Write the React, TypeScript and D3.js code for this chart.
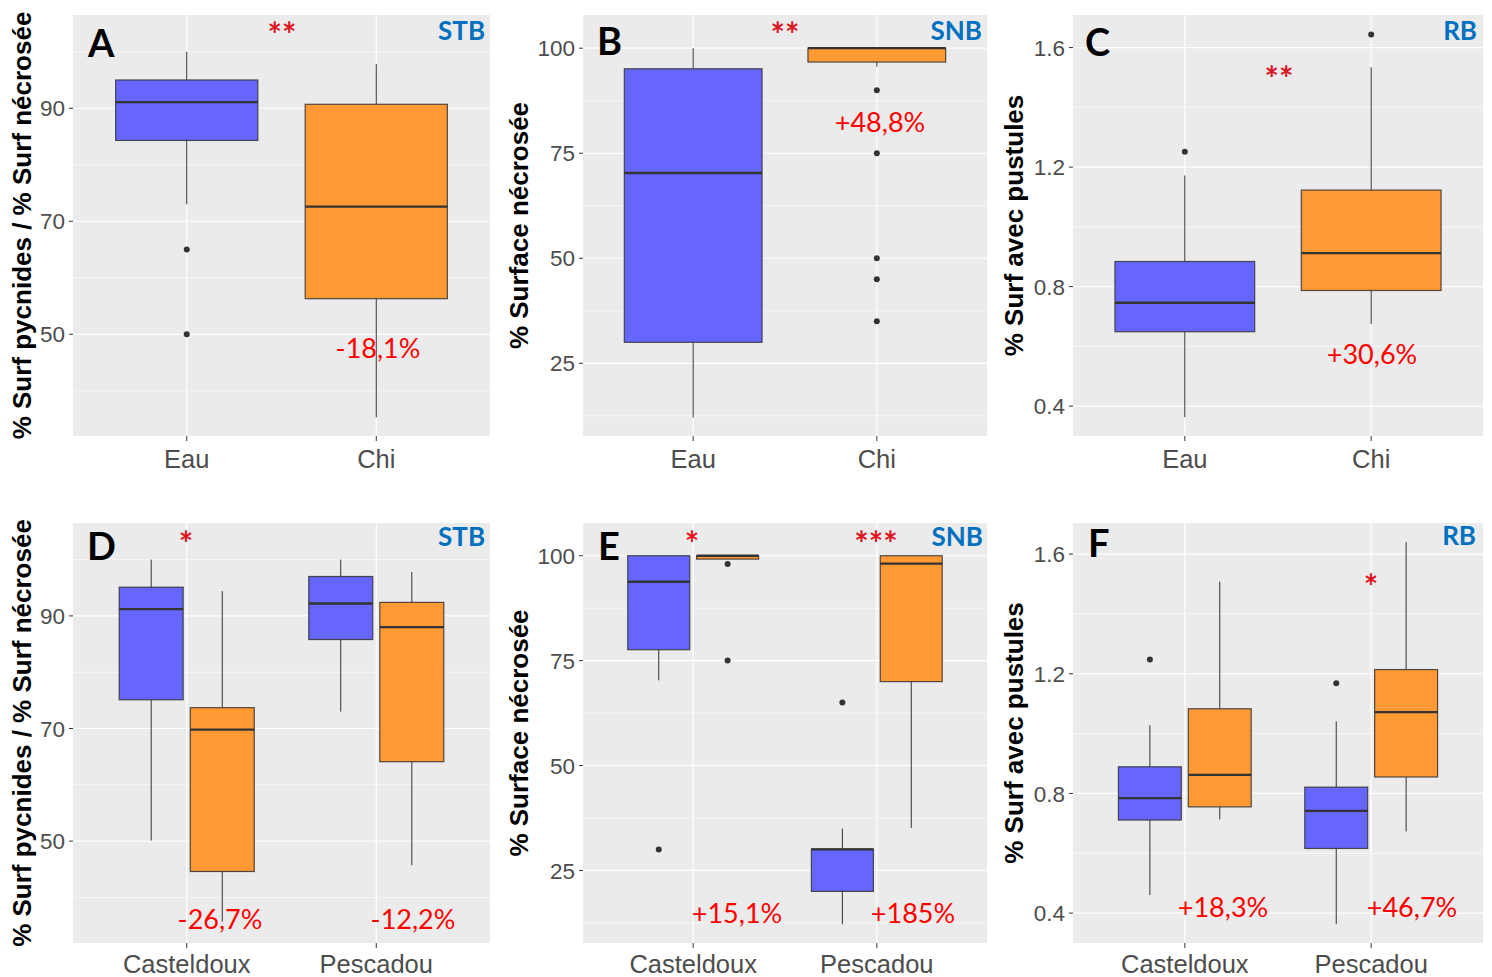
import React from "react";
import * as d3 from "d3";

// ---------- DATA ----------
const CATS_TOP = ["Eau", "Chi"];
const CATS_BOTTOM = ["Casteldoux", "Pescadou"];
const TREATMENT_FILLS = ["#6666FF", "#FF9933"]; // Eau, Chi

// stats: [lower whisker, Q1, median, Q3, upper whisker]
const statsA = [[73, 84.3, 91.1, 95, 100], [35.3, 56.3, 72.6, 90.7, 97.8]];
const outliersA = [[65, 50], []];
const statsB = [[12.1, 30, 70.3, 95.1, 100], [95.6, 96.7, 100, 100, 100]];
const outliersB = [[], [90, 75, 50, 45, 35]];
const statsC = [[0.363, 0.649, 0.746, 0.884, 1.172], [0.675, 0.787, 0.912, 1.123, 1.534]];
const outliersC = [[1.251], [1.644]];
// bottom order: Casteldoux-Eau, Casteldoux-Chi, Pescadou-Eau, Pescadou-Chi
const statsD = [[50.1, 75.1, 91.2, 95.1, 100], [35.7, 44.6, 69.8, 73.7, 94.4], [73, 85.8, 92.2, 97, 100], [45.7, 64.1, 88, 92.4, 97.8]];
const outliersD = [[], [], [], []];
const statsE = [[70.3, 77.6, 93.8, 100, 100], [99.2, 99.2, 100, 100, 100], [12.2, 20, 30, 30.1, 35], [35.1, 70, 98.1, 100, 100]];
const outliersE = [[30], [98, 75], [65], []];
const statsF = [[0.46, 0.711, 0.784, 0.889, 1.028], [0.713, 0.755, 0.862, 1.083, 1.508], [0.363, 0.616, 0.742, 0.821, 1.041], [0.673, 0.855, 1.072, 1.214, 1.64]];
const outliersF = [[1.248], [], [1.168], []];

const ticksSTB = [50, 70, 90];
const minorSTB = [40, 60, 80, 100];
const ticksSNB = [25, 50, 75, 100];
const minorSNB = [12.5, 37.5, 62.5, 87.5];
const ticksRB = [0.4, 0.8, 1.2, 1.6];
const minorRB = [0.6, 1.0, 1.4];

const TITLE_STB = "% Surf pycnides / % Surf nécrosée";
const TITLE_SNB = "% Surface nécrosée";
const TITLE_RB = "% Surf avec pustules";

// ---------- LAYOUT ----------
const COLS = [
  { x0: 73, x1: 490, titleX: 31 },
  { x0: 583, x1: 987, titleX: 528 },
  { x0: 1073, x1: 1483, titleX: 1023 },
];
const ROWS = [
  { y0: 15, y1: 436, xLabelY: 468 },
  { y0: 523, y1: 943, xLabelY: 973 },
];

const FONT_AXIS = "'Liberation Sans', Arial, sans-serif";
const FONT_ANNOT = "Lato, 'Open Sans', sans-serif";

function buildBoxes(stats, outliers, dodged) {
  return stats.map((s, i) => {
    if (!dodged) return { pos: i + 1, width: 0.75, fill: TREATMENT_FILLS[i], s, out: outliers[i] };
    const cat = Math.floor(i / 2);
    const trt = i % 2;
    return { pos: cat + 1 + (trt ? 0.1875 : -0.1875), width: 0.3375, fill: TREATMENT_FILLS[trt], s, out: outliers[i] };
  });
}

const panels = [
  { col: 0, row: 0, domain: [32, 106.5], ticks: ticksSTB, minor: minorSTB, cats: CATS_TOP, boxes: buildBoxes(statsA, outliersA, false), title: TITLE_STB, letter: "A", letterPos: [88, 57], tag: "STB", tagPos: [485, 40],
    stars: [{ t: "**", x: 282, y: 47 }], pcts: [{ t: "-18,1%", x: 378, y: 358 }] },
  { col: 1, row: 0, domain: [7.7, 107.9], ticks: ticksSNB, minor: minorSNB, cats: CATS_TOP, boxes: buildBoxes(statsB, outliersB, false), title: TITLE_SNB, letter: "B", letterPos: [597, 55], tag: "SNB", tagPos: [982, 40],
    stars: [{ t: "**", x: 785, y: 47 }], pcts: [{ t: "+48,8%", x: 880, y: 132 }] },
  { col: 2, row: 0, domain: [0.3, 1.709], ticks: ticksRB, minor: minorRB, cats: CATS_TOP, boxes: buildBoxes(statsC, outliersC, false), title: TITLE_RB, letter: "C", letterPos: [1085, 56], tag: "RB", tagPos: [1477, 40],
    stars: [{ t: "**", x: 1279, y: 91 }], pcts: [{ t: "+30,6%", x: 1372, y: 364 }] },
  { col: 0, row: 1, domain: [31.9, 106.5], ticks: ticksSTB, minor: minorSTB, cats: CATS_BOTTOM, boxes: buildBoxes(statsD, outliersD, true), title: TITLE_STB, letter: "D", letterPos: [87, 560], tag: "STB", tagPos: [485, 546],
    stars: [{ t: "*", x: 186, y: 556 }], pcts: [{ t: "-26,7%", x: 220, y: 929 }, { t: "-12,2%", x: 413, y: 929 }] },
  { col: 1, row: 1, domain: [7.7, 107.8], ticks: ticksSNB, minor: minorSNB, cats: CATS_BOTTOM, boxes: buildBoxes(statsE, outliersE, true), title: TITLE_SNB, letter: "E", letterPos: [598, 560], tag: "SNB", tagPos: [983, 546],
    stars: [{ t: "*", x: 692, y: 556 }, { t: "***", x: 876, y: 556 }], pcts: [{ t: "+15,1%", x: 737, y: 923 }, { t: "+185%", x: 913, y: 923 }] },
  { col: 2, row: 1, domain: [0.3, 1.704], ticks: ticksRB, minor: minorRB, cats: CATS_BOTTOM, boxes: buildBoxes(statsF, outliersF, true), title: TITLE_RB, letter: "F", letterPos: [1088, 557], tag: "RB", tagPos: [1476, 545],
    stars: [{ t: "*", x: 1371, y: 599 }], pcts: [{ t: "+18,3%", x: 1223, y: 917 }, { t: "+46,7%", x: 1412, y: 917 }] },
];

function Panel({ p }) {
  const c = COLS[p.col];
  const r = ROWS[p.row];
  const y = d3.scaleLinear().domain(p.domain).range([r.y1, r.y0]);
  const x = d3.scaleLinear().domain([0.4, 2.6]).range([c.x0, c.x1]);
  const cy = (r.y0 + r.y1) / 2;
  const fmt = (v) => (p.ticks[0] < 1 ? d3.format(".1f")(v) : String(v));
  return (
    <g>
      <rect x={c.x0} y={r.y0} width={c.x1 - c.x0} height={r.y1 - r.y0} fill="#EBEBEB" />
      {p.minor.map((v) => (
        <line key={"mn" + v} x1={c.x0} x2={c.x1} y1={y(v)} y2={y(v)} stroke="#fff" strokeWidth={0.6} />
      ))}
      {p.ticks.map((v) => (
        <line key={"mj" + v} x1={c.x0} x2={c.x1} y1={y(v)} y2={y(v)} stroke="#fff" strokeWidth={1.2} />
      ))}
      {p.cats.map((cat, i) => (
        <line key={"vx" + cat} x1={x(i + 1)} x2={x(i + 1)} y1={r.y0} y2={r.y1} stroke="#fff" strokeWidth={1.2} />
      ))}
      {p.boxes.map((b, i) => {
        const cx = x(b.pos);
        const hw = (x(b.width) - x(0)) / 2;
        const [lo, q1, med, q3, hi] = b.s;
        return (
          <g key={"b" + i}>
            <line x1={cx} x2={cx} y1={y(hi)} y2={y(q3)} stroke="#333" strokeWidth={1} />
            <line x1={cx} x2={cx} y1={y(q1)} y2={y(lo)} stroke="#333" strokeWidth={1} />
            <rect x={cx - hw} y={y(q3)} width={2 * hw} height={Math.max(0.5, y(q1) - y(q3))} fill={b.fill} stroke="#333" strokeOpacity={0.85} strokeWidth={1.2} />
            <line x1={cx - hw} x2={cx + hw} y1={y(med)} y2={y(med)} stroke="#333" strokeWidth={2.3} />
            {b.out.map((o, j) => (
              <circle key={j} cx={cx} cy={y(o)} r={3} fill="#333" />
            ))}
          </g>
        );
      })}
      {/* y axis */}
      {p.ticks.map((v) => (
        <g key={"yt" + v}>
          <line x1={c.x0 - 4} x2={c.x0} y1={y(v)} y2={y(v)} stroke="#333" strokeWidth={1} />
          <text x={c.x0 - 8} y={y(v)} dy="0.36em" textAnchor="end" fontFamily={FONT_AXIS} fontSize={22.5} fill="#4D4D4D">
            {fmt(v)}
          </text>
        </g>
      ))}
      {/* x axis */}
      {p.cats.map((cat, i) => (
        <g key={"xt" + cat}>
          <line x1={x(i + 1)} x2={x(i + 1)} y1={r.y1} y2={r.y1 + 5} stroke="#333" strokeWidth={1} />
          <text x={x(i + 1)} y={r.xLabelY} textAnchor="middle" fontFamily={FONT_AXIS} fontSize={25.5} fill="#4D4D4D">
            {cat}
          </text>
        </g>
      ))}
      <text transform={`translate(${c.titleX},${cy}) rotate(-90)`} textAnchor="middle" fontFamily={FONT_AXIS} fontWeight="bold" fontSize={26} fill="#000">
        {p.title}
      </text>
      {/* annotations */}
      <text x={p.letterPos[0]} y={p.letterPos[1]} fontFamily={FONT_ANNOT} fontWeight="bold" fontSize={38} fill="#000">
        {p.letter}
      </text>
      <text x={p.tagPos[0]} y={p.tagPos[1]} textAnchor="end" fontFamily={FONT_ANNOT} fontWeight="bold" fontSize={26} fill="#0070C0">
        {p.tag}
      </text>
      {p.stars.map((s, i) => (
        <text key={"s" + i} x={s.x} y={s.y} textAnchor="middle" fontFamily={FONT_ANNOT} fontWeight="bold" fontSize={34} fill="#E0141E">
          {s.t}
        </text>
      ))}
      {p.pcts.map((s, i) => (
        <text key={"p" + i} x={s.x} y={s.y} textAnchor="middle" fontFamily={FONT_ANNOT} fontSize={27} fill="#FF0000">
          {s.t}
        </text>
      ))}
    </g>
  );
}

export default function App() {
  return (
    <svg width={1492} height={977} style={{ position: "absolute", left: 0, top: 0, background: "#fff" }}>
      <rect x={0} y={0} width={1492} height={977} fill="#fff" />
      {panels.map((p, i) => (
        <Panel key={i} p={p} />
      ))}
    </svg>
  );
}
